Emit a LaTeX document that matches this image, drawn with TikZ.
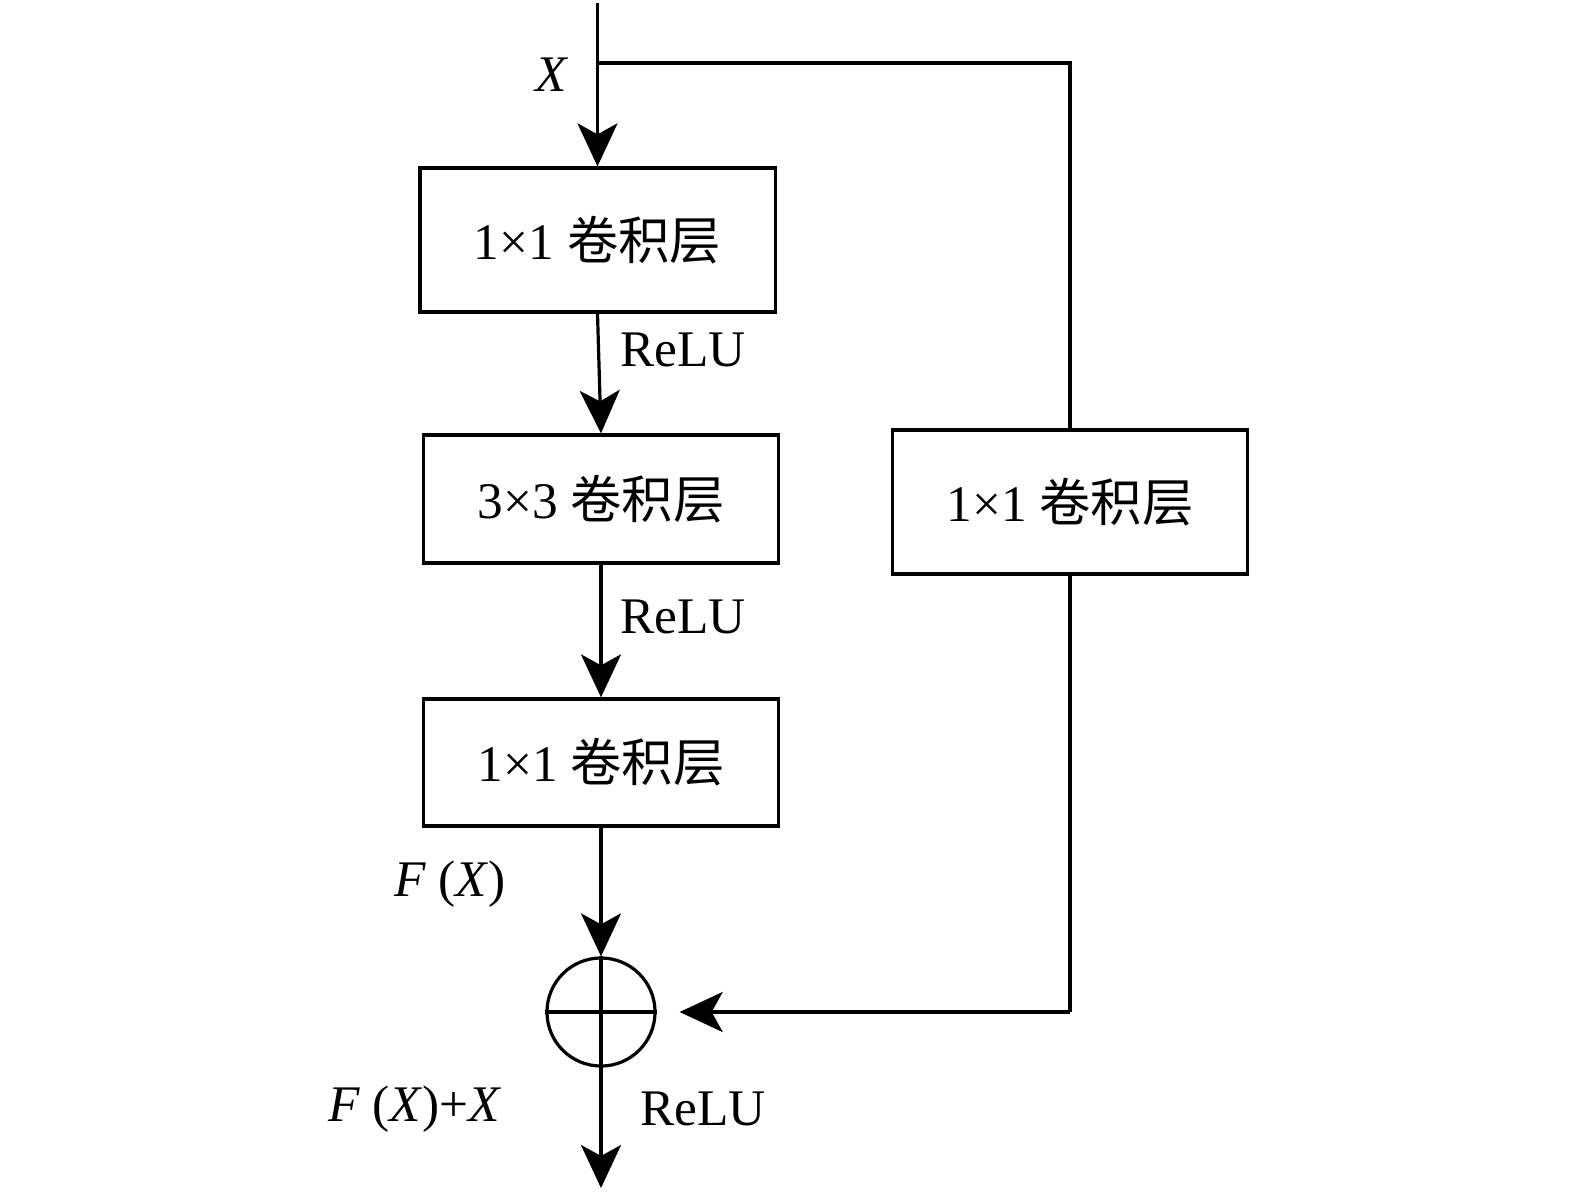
\documentclass[tikz,border=0pt]{standalone}
\usepackage{fontspec}
\setmainfont{Liberation Serif}
\newfontfamily\cjk{Noto Sans CJK SC}
\usetikzlibrary{arrows.meta}
\begin{document}
\begin{tikzpicture}[x=0.01cm,y=-0.01cm,
  line width=0.032cm,
  tip/.style={-{Stealth[length=0.43cm,width=0.40cm,inset=0.11cm]}},
  layer/.style={draw,minimum width=3.55cm,inner sep=0pt,font=\fontsize{14.6}{17}\selectfont},
  lab/.style={font=\fontsize{14.6}{17}\selectfont,inner sep=0pt}]
\useasboundingbox (0,0) rectangle (1575,1193);
\node[layer,minimum height=1.44cm] (b1) at (597.5,240) {1×1 {\cjk 卷积层}};
\node[layer,minimum height=1.28cm] (b2) at (601,499) {3×3 {\cjk 卷积层}};
\node[layer,minimum height=1.27cm] (b3) at (601,762.5) {1×1 {\cjk 卷积层}};
\node[layer,minimum height=1.44cm] (b4) at (1070,502) {1×1 {\cjk 卷积层}};
\node[draw,circle,minimum size=1.08cm,inner sep=0pt] (c) at (601,1012) {};
\coordinate (top) at (597.5,3);
\coordinate (br) at (597.5,63);
\coordinate (rt) at (1070,63);
\coordinate (rb) at (1070,1012);
\coordinate (out) at (601,1188);
\draw[tip] (top) -- (b1.north);
\draw (br) -- (rt) -- (b4.north);
\draw[tip] (b1.south) -- (b2.north);
\draw[tip] (b2.south) -- (b3.north);
\draw[tip] (b3.south) -- (c.north);
\draw (b4.south) -- (rb);
\draw[tip,shorten >=0.23cm] (rb) -- (c.east);
\draw (c.north) -- (c.south);
\draw (c.west) -- (c.east);
\draw[tip] (c.south) -- (out);
\node[lab] (lx) at (552,75) {\textit{X}};
\node[lab] (r1) at (683,350) {ReLU};
\node[lab] (r2) at (683,617) {ReLU};
\node[lab] (fx) at (450,884) {\textit{F} (\textit{X})};
\node[lab] (fxx) at (415,1109) {\textit{F} (\textit{X})+\textit{X}};
\node[lab] (r3) at (703,1109) {ReLU};
\end{tikzpicture}
\end{document}
